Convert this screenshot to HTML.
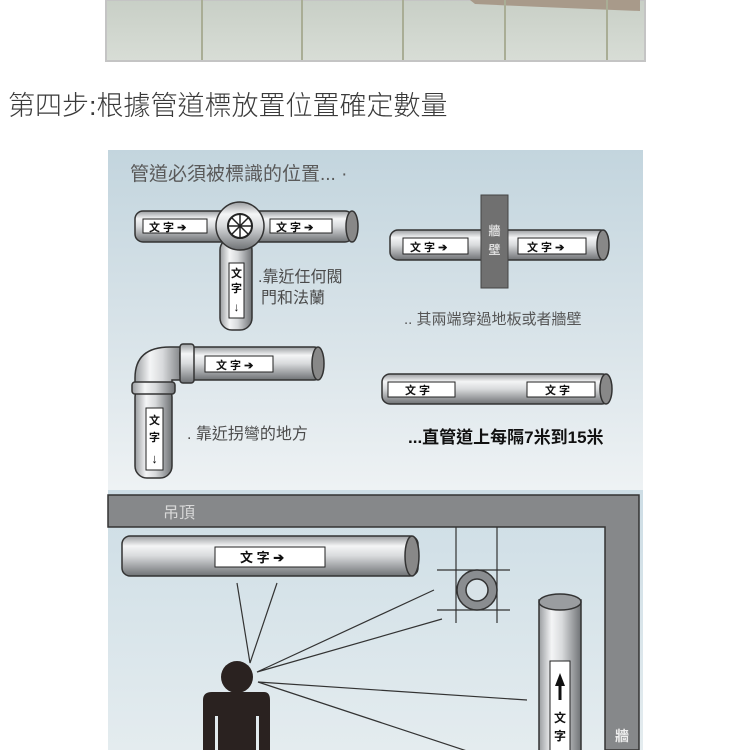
<!DOCTYPE html>
<html><head><meta charset="utf-8"><style>
html,body{margin:0;padding:0;background:#fff;width:750px;height:750px;overflow:hidden}
svg{display:block}
text{font-family:"Liberation Sans","Noto Sans CJK TC","Noto Sans CJK SC",sans-serif}
</style></head><body>
<svg width="750" height="750" viewBox="0 0 750 750" xmlns="http://www.w3.org/2000/svg">
<defs>
<linearGradient id="ph" x1="0" y1="0" x2="0" y2="1">
<stop offset="0" stop-color="#9a9da0"/><stop offset="0.25" stop-color="#f4f5f6"/><stop offset="0.5" stop-color="#d8dadc"/><stop offset="1" stop-color="#6f7275"/></linearGradient>
<linearGradient id="pv" x1="0" y1="0" x2="1" y2="0">
<stop offset="0" stop-color="#9a9da0"/><stop offset="0.3" stop-color="#f4f5f6"/><stop offset="0.55" stop-color="#d8dadc"/><stop offset="1" stop-color="#6f7275"/></linearGradient>
<linearGradient id="bg1" x1="0" y1="0" x2="0" y2="1">
<stop offset="0" stop-color="#c3d5de"/><stop offset="0.6" stop-color="#dbe5ea"/><stop offset="1" stop-color="#eef2f4"/></linearGradient>
<linearGradient id="bg2" x1="0" y1="0" x2="0" y2="1">
<stop offset="0" stop-color="#cddde5"/><stop offset="1" stop-color="#e4ecef"/></linearGradient>
<linearGradient id="wall" x1="0" y1="0" x2="0" y2="1">
<stop offset="0" stop-color="#c8cfc6"/><stop offset="1" stop-color="#d8ddd6"/></linearGradient>
</defs>
<!-- photo strip -->
<rect x="106" y="0" width="539" height="61" fill="url(#wall)" stroke="#c4c4c4" stroke-width="2"/>
<path d="M470 0 H640 V11 Q560 8 475 4 Z" fill="#a89a8a"/>
<g stroke="#a9ad95" stroke-width="2"><line x1="202" y1="0" x2="202" y2="60"/><line x1="302" y1="0" x2="302" y2="60"/><line x1="403" y1="0" x2="403" y2="60"/><line x1="505" y1="0" x2="505" y2="60"/><line x1="607" y1="0" x2="607" y2="60"/></g>
<text x="8" y="115" font-size="27" fill="#3a3a3a" font-weight="300">第四步:根據管道標放置位置確定數量</text>

<!-- top panel -->
<rect x="108" y="150" width="535" height="340" fill="url(#bg1)"/>
<rect x="108" y="490" width="535" height="260" fill="url(#bg2)"/>
<text x="130" y="180" font-size="19" fill="#5a5a5a">管道必須被標識的位置... ·</text>

<!-- T pipe -->
<rect x="220" y="238" width="32" height="92" rx="12" fill="url(#pv)" stroke="#333" stroke-width="1.5"/>
<rect x="135" y="211" width="218" height="31" rx="8" fill="url(#ph)" stroke="#333" stroke-width="1.5"/>
<ellipse cx="352" cy="226.5" rx="6" ry="15.5" fill="#888" stroke="#333" stroke-width="1.5"/>
<circle cx="240" cy="226" r="24" fill="url(#ph)" stroke="#333" stroke-width="1.5"/>
<circle cx="240" cy="226" r="12" fill="#fff" stroke="#222" stroke-width="2"/>
<g stroke="#222" stroke-width="1.5"><line x1="229" y1="226" x2="251" y2="226"/><line x1="240" y1="215" x2="240" y2="237"/><line x1="232" y1="218" x2="248" y2="234"/><line x1="248" y1="218" x2="232" y2="234"/></g>
<rect x="143" y="219" width="64" height="14" fill="#fff" stroke="#222"/>
<text x="149" y="231" font-size="11" font-weight="bold" fill="#111">文 字 ➔</text>
<rect x="270" y="219" width="62" height="14" fill="#fff" stroke="#222"/>
<text x="276" y="231" font-size="11" font-weight="bold" fill="#111">文 字 ➔</text>
<rect x="229" y="263" width="15" height="55" fill="#fff" stroke="#222"/>
<text x="236.5" y="277" font-size="11" font-weight="bold" fill="#111" text-anchor="middle">文</text>
<text x="236.5" y="292" font-size="11" font-weight="bold" fill="#111" text-anchor="middle">字</text>
<text x="236.5" y="311" font-size="12" font-weight="bold" fill="#111" text-anchor="middle">↓</text>
<text x="258" y="282" font-size="16" fill="#4a4a4a">.靠近任何閥</text>
<text x="261" y="303" font-size="16" fill="#4a4a4a">門和法蘭</text>

<!-- elbow pipe -->
<rect x="135" y="385" width="37" height="93" rx="12" fill="url(#pv)" stroke="#333" stroke-width="1.5"/>
<path d="M135 388 V378 Q135 347 170 347 H185 V380 H172 V388 Z" fill="url(#pv)" stroke="#333" stroke-width="1.5"/>
<rect x="180" y="347" width="140" height="33" rx="6" fill="url(#ph)" stroke="#333" stroke-width="1.5"/>
<ellipse cx="318" cy="363.5" rx="6" ry="16.5" fill="#888" stroke="#333" stroke-width="1.5"/>
<rect x="180" y="344" width="14" height="39" rx="3" fill="url(#ph)" stroke="#333" stroke-width="1.5"/>
<rect x="132" y="382" width="43" height="12" rx="3" fill="url(#pv)" stroke="#333" stroke-width="1.5"/>
<rect x="205" y="356" width="68" height="16" fill="#fff" stroke="#222"/>
<text x="216" y="369" font-size="11" font-weight="bold" fill="#111">文 字 ➔</text>
<rect x="146" y="408" width="17" height="62" fill="#fff" stroke="#222"/>
<text x="154.5" y="424" font-size="11" font-weight="bold" fill="#111" text-anchor="middle">文</text>
<text x="154.5" y="441" font-size="11" font-weight="bold" fill="#111" text-anchor="middle">字</text>
<text x="154.5" y="463" font-size="13" font-weight="bold" fill="#111" text-anchor="middle">↓</text>
<text x="187" y="439" font-size="16" fill="#4a4a4a">. 靠近拐彎的地方</text>

<!-- cross wall pipe -->
<rect x="390" y="230" width="218" height="30" rx="8" fill="url(#ph)" stroke="#333" stroke-width="1.5"/>
<ellipse cx="603" cy="245" rx="6" ry="15" fill="#888" stroke="#333" stroke-width="1.5"/>
<rect x="481" y="195" width="27" height="93" fill="#707070" stroke="#444"/>
<text x="494.5" y="235" font-size="12" font-weight="bold" fill="#ddd" text-anchor="middle">牆</text>
<text x="494.5" y="254" font-size="12" font-weight="bold" fill="#ddd" text-anchor="middle">壁</text>
<rect x="403" y="238" width="65" height="16" fill="#fff" stroke="#222"/>
<text x="410" y="251" font-size="11" font-weight="bold" fill="#111">文 字 ➔</text>
<rect x="518" y="238" width="68" height="16" fill="#fff" stroke="#222"/>
<text x="527" y="251" font-size="11" font-weight="bold" fill="#111">文 字 ➔</text>
<text x="404" y="324" font-size="15" fill="#555">.. 其兩端穿過地板或者牆壁</text>

<!-- straight pipe -->
<rect x="382" y="374" width="228" height="30" rx="8" fill="url(#ph)" stroke="#333" stroke-width="1.5"/>
<ellipse cx="606" cy="389" rx="6" ry="15" fill="#888" stroke="#333" stroke-width="1.5"/>
<rect x="388" y="382" width="67" height="15" fill="#fff" stroke="#222"/>
<text x="405" y="394" font-size="11" font-weight="bold" fill="#111">文 字</text>
<rect x="527" y="382" width="68" height="15" fill="#fff" stroke="#222"/>
<text x="545" y="394" font-size="11" font-weight="bold" fill="#111">文 字</text>
<text x="408" y="443" font-size="17" font-weight="bold" fill="#111">...直管道上每隔7米到15米</text>

<!-- lower room -->
<path d="M108 495 H639 V750 H605 V527 H108 Z" fill="#86888a" stroke="#333" stroke-width="1.5"/>
<text x="163" y="518" font-size="16" fill="#d8d8d8">吊頂</text>
<text x="622" y="741" font-size="14" font-weight="bold" fill="#eee" text-anchor="middle">牆</text>

<rect x="122" y="536" width="296" height="40" rx="8" fill="url(#ph)" stroke="#333" stroke-width="1.5"/>
<ellipse cx="412" cy="556" rx="7" ry="20" fill="#888" stroke="#333" stroke-width="1.5"/>
<rect x="215" y="547" width="110" height="20" fill="#fff" stroke="#222"/>
<text x="240" y="562" font-size="13" font-weight="bold" fill="#111">文 字  ➔</text>

<g stroke="#333" stroke-width="1.2"><line x1="456" y1="527" x2="456" y2="623"/><line x1="497" y1="527" x2="497" y2="623"/><line x1="437" y1="570" x2="510" y2="570"/><line x1="437" y1="610" x2="510" y2="610"/></g>
<circle cx="477" cy="590" r="20" fill="#8a8d90" stroke="#333" stroke-width="1.5"/>
<circle cx="477" cy="590" r="11" fill="#d8e3e8" stroke="#333" stroke-width="1.5"/>

<rect x="539" y="600" width="42" height="155" fill="url(#pv)" stroke="#333" stroke-width="1.5"/>
<ellipse cx="560" cy="602" rx="21" ry="8" fill="#9a9da0" stroke="#333" stroke-width="1.5"/>
<rect x="550" y="661" width="20" height="95" fill="#fff" stroke="#222"/>
<path d="M560 673 L565 686 H561.5 V700 H558.5 V686 H555 Z" fill="#111"/>
<text x="560" y="722" font-size="12" font-weight="bold" fill="#111" text-anchor="middle">文</text>
<text x="560" y="740" font-size="12" font-weight="bold" fill="#111" text-anchor="middle">字</text>

<g stroke="#333" stroke-width="1.2" fill="none">
<polyline points="237,583 250,663 277,583"/>
<polyline points="434,590 257,672 442,619"/>
<polyline points="527,700 258,682 470,752"/>
</g>
<circle cx="237" cy="677" r="16" fill="#2a2220"/>
<path d="M212 692 H264 Q270 692 270 700 V750 H259 V716 H256 V750 H218 V716 H215 V750 H203 V700 Q203 692 212 692 Z" fill="#2a2220"/>
</svg>
</body></html>
